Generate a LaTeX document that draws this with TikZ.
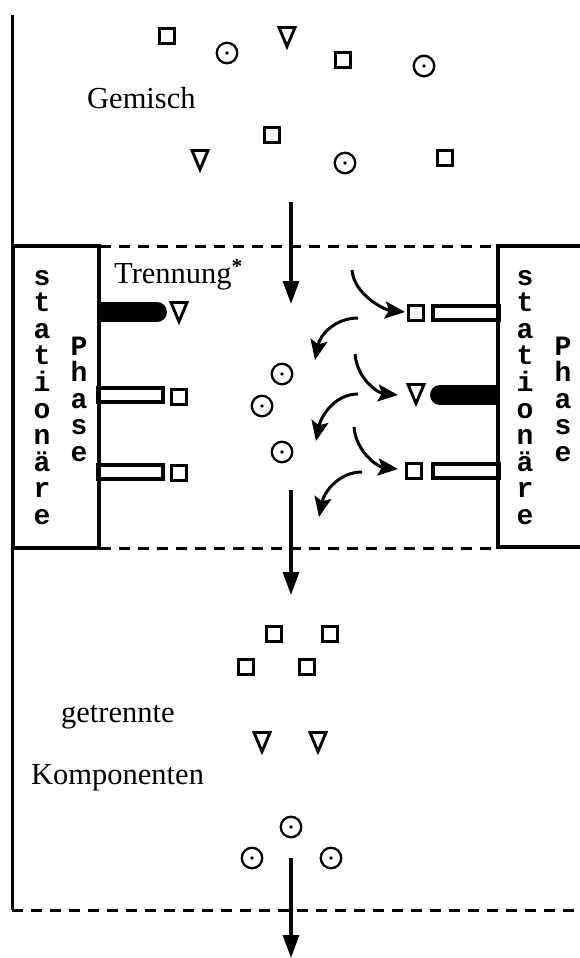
\documentclass[tikz,border=0pt]{standalone}
\usepackage{fontspec}
\setmainfont{Liberation Serif}
\newfontfamily\monof{Liberation Mono}
\usetikzlibrary{arrows.meta}
\begin{document}
\begin{tikzpicture}[x=1pt,y=-1pt,
  thinline/.style={line width=3pt},
  boxline/.style={line width=4.8pt},
  dashline/.style={line width=3pt, dash pattern=on 11pt off 8pt},
  sq/.style={draw, rectangle, line width=2.7pt, minimum size=15.3pt, inner sep=0pt},
  od/.style={draw, circle, line width=2.3pt, minimum size=20.5pt, inner sep=0pt,
    path picture={\fill[black] (path picture bounding box.center) circle (1.9pt);}},
  lbl/.style={font=\fontsize{30.5}{32}\selectfont, inner sep=0pt},
  vl/.style={font=\monof\bfseries\fontsize{28}{30}\selectfont, inner sep=0pt, anchor=base},
  flow/.style={line width=3.2pt, -{Triangle[length=23pt,width=16pt]}},
  swapar/.style={line width=3pt, -{Stealth[length=20pt,width=17pt,inset=4pt]}},
  tri/.pic={\draw[line width=2.9pt] (-8,-9.5) -- (8,-9.5) -- (0,9.5) -- cycle;}
]
\useasboundingbox (0,0) rectangle (580,958);

% frame lines
\draw[thinline] (12,15) -- (12,245);
\draw[thinline] (12,548) -- (12,910);
\draw[dashline] (12,910) -- (580,910);
\draw[dashline] (100,246) -- (497,246);
\draw[dashline] (100,548) -- (497,548);

% stationary phase boxes
\draw[boxline, fill=white] (13,246) rectangle (99,548);
\draw[boxline] (590,246) -- (498,246) -- (498,547) -- (590,547);

% vertical labels
\foreach \c [count=\i from 0] in {s,t,a,t,i,o,n,ä,r,e} {
  \node[vl] (L\i) at (42,285+26.6*\i) {\c};
  \node[vl] (R\i) at (525,285+26.6*\i) {\c};
}
\foreach \c [count=\i from 0] in {P,h,a,s,e} {
  \node[vl] (LP\i) at (79,355+26.6*\i) {\c};
  \node[vl] (RP\i) at (563,355+26.6*\i) {\c};
}

% left bars
\fill (100,302) rectangle (157,322);
\fill (157,312) circle (10);
\draw[line width=4.8pt] (98,388) rectangle (163,402);
\draw[line width=4.8pt] (98,465) rectangle (163,479);
% right bars
\draw[line width=4.8pt] (433,306) rectangle (499,320);
\fill (440,385) rectangle (497,405);
\fill (440,395) circle (10);
\draw[line width=4.8pt] (433,464) rectangle (499,478);

% adsorbed components
\pic at (179,312) {tri};
\node[sq] (ls1) at (179,397) {};
\node[sq] (ls2) at (179,473) {};
\node[sq] (rs1) at (416,313) {};
\pic at (416,394) {tri};
\node[sq] (rs2) at (414,471) {};

% mixture
\node[sq] (m1) at (167,36) {};
\node[od] (m2) at (227,53) {};
\pic at (287,37) {tri};
\node[sq] (m4) at (343,60) {};
\node[od] (m5) at (424,66) {};
\node[sq] (m6) at (272,135) {};
\pic at (200,160) {tri};
\node[od] (m8) at (345,163) {};
\node[sq] (m9) at (445,158) {};

% middle circles
\node[od] (c1) at (282,374) {};
\node[od] (c2) at (262,406) {};
\node[od] (c3) at (282,452) {};

% separated components
\node[sq] (b1) at (274,634) {};
\node[sq] (b2) at (330,634) {};
\node[sq] (b3) at (246,667) {};
\node[sq] (b4) at (307,667) {};
\pic at (262,742) {tri};
\pic at (318,742) {tri};
\node[od] (b7) at (291,827) {};
\node[od] (b8) at (252,858) {};
\node[od] (b9) at (331,858) {};

% texts
\node[lbl, anchor=base west] (gem) at (87,108) {Gemisch};
\node[lbl, anchor=base west] (tren) at (114,283) {Trennung\textsuperscript{\textbf{*}}};
\node[lbl, anchor=base west] (getr) at (61,722) {getrennte};
\node[lbl, anchor=base west] (komp) at (31,784) {Komponenten};

% flow arrows
\coordinate (f1a) at (291,202); \coordinate (f1b) at (291,304);
\coordinate (f2a) at (291,490); \coordinate (f2b) at (291,595);
\coordinate (f3a) at (291,858); \coordinate (f3b) at (291,958);
\draw[flow] (f1a) -- (f1b);
\draw[flow] (f2a) -- (f2b);
\draw[flow] (f3a) -- (f3b);

% exchange arrows
\draw[swapar] (352,270) .. controls (354,295) and (385,310) .. (405,312);
\draw[swapar] (358,318) .. controls (335,318) and (320,335) .. (315,360);
\draw[swapar] (355,354) .. controls (357,379) and (378,393) .. (398,395);
\draw[swapar] (358,394) .. controls (335,394) and (321,416) .. (316,441);
\draw[swapar] (354,427) .. controls (356,452) and (378,467) .. (398,469);
\draw[swapar] (362,472) .. controls (339,472) and (324,492) .. (319,517);
\end{tikzpicture}
\end{document}
